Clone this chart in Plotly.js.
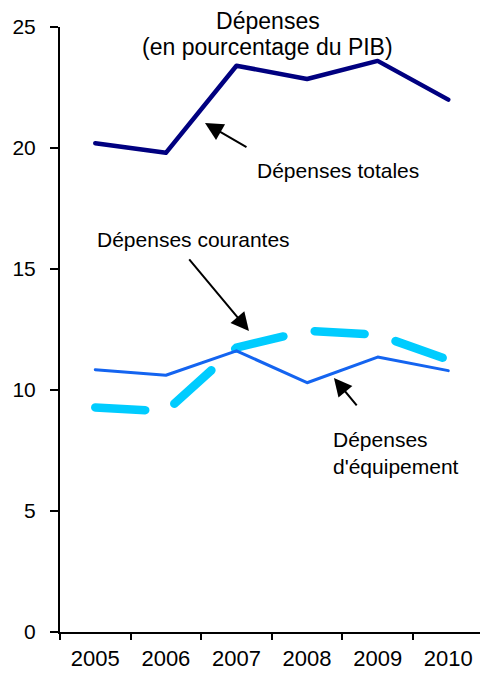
<!DOCTYPE html>
<html>
<head>
<meta charset="utf-8">
<script src="https://cdn.plot.ly/plotly-3.0.1.min.js"></script>
<style>
html,body{margin:0;padding:0;background:#fff;}
#chart{width:480px;height:675px;}
#chart .scatterlayer .trace path.js-line{stroke-linecap:round;stroke-linejoin:round;}
</style>
</head>
<body>
<div id="chart"></div>
<script>
const years = ['2005', '2006', '2007', '2008', '2009', '2010'];
const depensesTotales = [20.2, 19.8, 23.4, 22.85, 23.6, 22.0];
const depensesCourantes = [9.28, 9.12, 11.75, 12.45, 12.28, 11.25];
const depensesEquipement = [10.84, 10.61, 11.62, 10.3, 11.36, 10.8];

const FONT = 'Liberation Sans, Arial, sans-serif';

const traces = [
  {x: years, y: depensesTotales, type: 'scatter', mode: 'lines', name: 'Dépenses totales',
   line: {color: '#000080', width: 4.5}},
  {x: years, y: depensesCourantes, type: 'scatter', mode: 'lines', name: 'Dépenses courantes',
   line: {color: '#00CCFF', width: 8.5, dash: '50px,32px'}},
  {x: years, y: depensesEquipement, type: 'scatter', mode: 'lines', name: "Dépenses d'équipement",
   line: {color: '#1464F0', width: 3}}
];

const arrowStyle = {showarrow: true, arrowhead: 2, arrowsize: 1.8, arrowwidth: 2, arrowcolor: '#000', text: '', xref: 'x', yref: 'y'};

const layout = {
  width: 480, height: 675,
  margin: {l: 60, r: 0, t: 27, b: 43},
  paper_bgcolor: '#fff', plot_bgcolor: '#fff',
  showlegend: false,
  font: {family: FONT, color: '#000'},
  title: {text: 'Dépenses', font: {family: FONT, size: 23, color: '#000'},
          xref: 'paper', x: 0.495, xanchor: 'center', yref: 'container', y: 1 - 21/675, yanchor: 'middle'},
  xaxis: {type: 'category', range: [-0.5, 5.45], showline: true, linecolor: '#000', linewidth: 2,
          ticks: 'outside', ticklen: 6, tickwidth: 2, tickcolor: '#000', tickson: 'boundaries',
          ticklabelstandoff: 6,
          showgrid: false, zeroline: false, tickfont: {family: FONT, size: 22, color: '#000'}},
  yaxis: {range: [0, 25], dtick: 5, tick0: 0, showline: true, linecolor: '#000', linewidth: 2,
          ticks: 'outside', ticklen: 8, tickwidth: 2, tickcolor: '#000', ticklabelstandoff: 10,
          showgrid: false, zeroline: false, tickfont: {family: FONT, size: 21, color: '#000'}},
  annotations: [
    {text: '(en pourcentage du PIB)', showarrow: false, xref: 'paper', yref: 'paper',
     x: 0.495, xanchor: 'center', y: (632 - 47) / 605, yanchor: 'middle',
     font: {family: FONT, size: 23, color: '#000'}},
    Object.assign({}, arrowStyle, {x: 1.554, y: 21.03, ax: 43, ay: 25}),
    Object.assign({}, arrowStyle, {x: 2.177, y: 12.44, ax: -61, ay: -73}),
    Object.assign({}, arrowStyle, {x: 3.381, y: 10.5, ax: 24, ay: 29}),
    {text: 'Dépenses totales', showarrow: false, xref: 'x', yref: 'y', x: 3.44, y: 19.05,
     xanchor: 'center', yanchor: 'middle', font: {family: FONT, size: 21, color: '#000'}},
    {text: 'Dépenses courantes', showarrow: false, xref: 'x', yref: 'y', x: 1.398, y: 16.2,
     xanchor: 'center', yanchor: 'middle', font: {family: FONT, size: 21, color: '#000'}},
    {text: "Dépenses<br>d'équipement", showarrow: false, xref: 'x', yref: 'y', x: 3.338, y: 7.4,
     xanchor: 'left', yanchor: 'middle', align: 'left', font: {family: FONT, size: 21, color: '#000'}}
  ]
};

Plotly.newPlot('chart', traces, layout, {displayModeBar: false, staticPlot: true});
</script>
</body>
</html>
